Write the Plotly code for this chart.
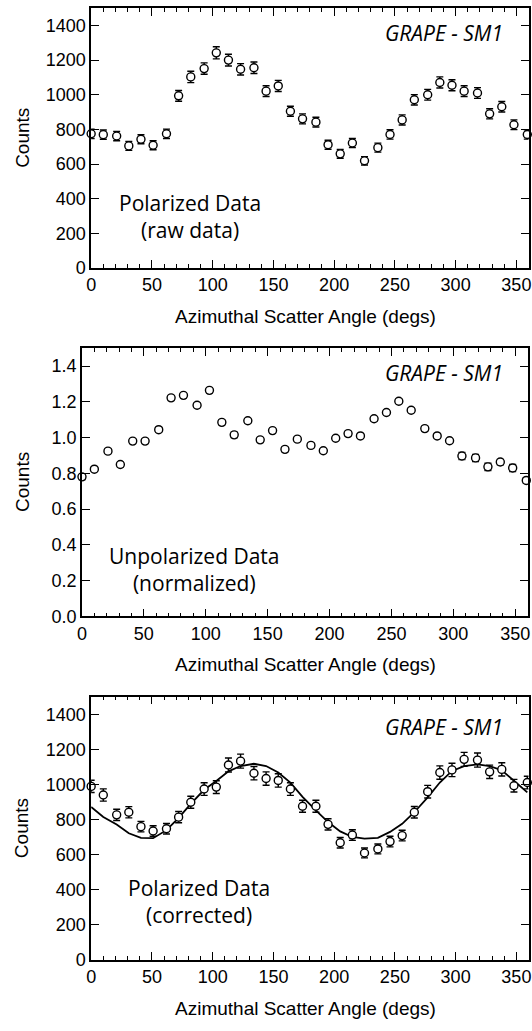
import plotly.graph_objects as go

W, H = 532, 1031

# Azimuthal scatter angles (degrees) of the data points
angles = [0, 10, 21, 31, 41, 51, 62, 72, 82, 93, 103, 113, 123, 134, 144, 154, 164, 174,
          185, 195, 205, 215, 225, 236, 246, 256, 266, 277, 287, 297, 307, 318, 328, 338, 348, 359]

# Panel 1: polarized raw counts
raw_counts = [775, 770, 762, 705, 743, 709, 775, 994, 1103, 1151, 1242, 1200, 1147, 1156, 1021, 1051, 905, 861,
              842, 712, 659, 722, 619, 695, 771, 855, 971, 1000, 1071, 1055, 1021, 1010, 890, 931, 827, 771]
raw_err = [27, 27, 27, 26, 26, 26, 27, 31, 33, 33, 35, 34, 33, 33, 31, 32, 29, 29,
           28, 26, 25, 26, 24, 26, 27, 29, 30, 31, 32, 32, 31, 31, 29, 30, 28, 27]

# Panel 2: unpolarized normalized
unpol = [0.78, 0.823, 0.924, 0.849, 0.980, 0.980, 1.044, 1.222, 1.236, 1.181, 1.264, 1.085, 1.015, 1.094, 0.987, 1.039, 0.934, 0.991,
         0.956, 0.926, 0.996, 1.022, 1.009, 1.105, 1.140, 1.203, 1.153, 1.050, 1.009, 0.982, 0.897, 0.886, 0.836, 0.863, 0.830, 0.76]
unpol_err = [0.015, 0.012, 0.012, 0.012, 0.012, 0.012, 0.012, 0.012, 0.012, 0.012, 0.012, 0.012, 0.015, 0.012, 0.012, 0.012, 0.012, 0.012,
             0.012, 0.012, 0.012, 0.012, 0.012, 0.012, 0.012, 0.012, 0.012, 0.012, 0.012, 0.012, 0.02, 0.02, 0.02, 0.015, 0.02, 0.015]

# Panel 3: polarized corrected counts + fit
corr_counts = [989, 940, 827, 842, 760, 735, 748, 814, 899, 974, 985, 1111, 1133, 1064, 1034, 1023, 974, 876,
               876, 773, 668, 712, 610, 633, 675, 709, 842, 959, 1068, 1083, 1143, 1139, 1072, 1086, 993, 1011]
corr_err = [35, 35, 32, 32, 30, 30, 30, 32, 34, 36, 36, 40, 40, 38, 38, 38, 36, 34,
            34, 32, 30, 30, 28, 28, 30, 30, 33, 36, 38, 38, 40, 40, 38, 38, 36, 36]
fit_counts = [872, 815, 772, 722, 696, 694, 740, 810, 890, 970, 1020, 1075, 1105, 1118, 1105, 1068, 1011, 930,
              852, 786, 733, 701, 692, 696, 730, 776, 842, 927, 1011, 1077, 1105, 1114, 1105, 1081, 1021, 955]

x_ticks = [0, 50, 100, 150, 200, 250, 300, 350]
y_ticks_counts = [0, 200, 400, 600, 800, 1000, 1200, 1400]
y_ticks_norm = [0.0, 0.2, 0.4, 0.6, 0.8, 1.0, 1.2, 1.4]

labels = ["Polarized Data<br>(raw data)",
          "Unpolarized Data<br>(normalized)",
          "Polarized Data<br>(corrected)"]

# pixel geometry of the three plot areas: (left, right, top, bottom)
boxes = [(87.3, 530.5, 8.2, 270.7),
         (78.0, 529.5, 351.6, 622.3),
         (87.3, 530.5, 703.5, 969.5)]

TICKFONT = dict(family="Liberation Sans, Arial, sans-serif", size=18, color="black")
TITLEFONT = dict(family="Liberation Sans, Arial, sans-serif", size=19, color="black")
ANNFONT = dict(family="Open Sans, sans-serif", size=21, color="black")

fig = go.Figure()


def fx(p):
    return p / W


def fy(p):
    return 1 - p / H


def add_points(i, y, err):
    fig.add_trace(go.Scatter(
        x=angles, y=y, mode="markers", xaxis=f"x{i+1 if i else ''}", yaxis=f"y{i+1 if i else ''}",
        marker=dict(symbol="circle", size=8, color="white", line=dict(color="black", width=1.4)),
        error_y=dict(type="data", array=err, visible=True, color="black", thickness=1.4, width=3.5),
        cliponaxis=False, showlegend=False))


add_points(0, raw_counts, raw_err)
add_points(1, unpol, unpol_err)
fig.add_trace(go.Scatter(x=angles, y=fit_counts, mode="lines", xaxis="x3", yaxis="y3",
                         line=dict(color="black", width=1.8), showlegend=False))
add_points(2, corr_counts, corr_err)

layout = dict(width=W, height=H, autosize=False, margin=dict(l=0, r=0, t=0, b=0),
              paper_bgcolor="white", plot_bgcolor="white", showlegend=False)

annotations = []
for i, (l, r, t, b) in enumerate(boxes):
    sfx = str(i + 1) if i else ""
    axis_common = dict(showline=True, linecolor="black", linewidth=1.5, mirror="ticks",
                       ticks="inside", ticklen=8, tickwidth=1.4, tickcolor="black",
                       showgrid=False, zeroline=False, tickfont=TICKFONT)
    layout["xaxis" + sfx] = dict(domain=[fx(l), fx(r)], range=[0, 360], tickvals=x_ticks,
                                 anchor="y" + sfx,
                                 minor=dict(dtick=10, tick0=0, ticks="inside", ticklen=4,
                                            tickwidth=1.2, tickcolor="black", showgrid=False),
                                 **axis_common)
    if i == 1:
        yv, yr, fmt = y_ticks_norm, [0, 1.5], ".1f"
    else:
        yv, yr, fmt = y_ticks_counts, [0, 1500], "d"
    layout["yaxis" + sfx] = dict(domain=[fy(b), fy(t)], range=yr, tickvals=yv, tickformat=fmt,
                                 anchor="x" + sfx, **axis_common)

    xc = [187, 192, 197][i]
    yc = [218.5, 575, 910][i]
    annotations.append(dict(text=labels[i], x=fx(xc), y=fy(yc), xref="paper", yref="paper",
                            showarrow=False, font=ANNFONT, xanchor="center", yanchor="middle",
                            align="center"))
    gy = [33.5, 377, 734][i]
    annotations.append(dict(text="<i>GRAPE - SM1</i>", x=fx(507), y=fy(gy), xref="paper", yref="paper",
                            showarrow=False, font=dict(family="Open Sans, sans-serif", size=21, color="black"),
                            xanchor="right", yanchor="middle"))
    annotations.append(dict(text="Counts", x=fx(17), y=fy((t + b) / 2), xref="paper", yref="paper",
                            showarrow=False, font=TITLEFONT, textangle=-90,
                            xanchor="center", yanchor="middle"))
    annotations.append(dict(text="Azimuthal Scatter Angle (degs)", x=fx(305), y=fy(b + 49),
                            xref="paper", yref="paper", showarrow=False, font=TITLEFONT,
                            xanchor="center", yanchor="middle"))

layout["annotations"] = annotations
fig.update_layout(**layout)
fig.write_html("out.html", config={"displayModeBar": False},
               post_script="document.body.style.margin='0px';document.body.style.padding='0px';"
                           "document.body.style.overflow='hidden';")
